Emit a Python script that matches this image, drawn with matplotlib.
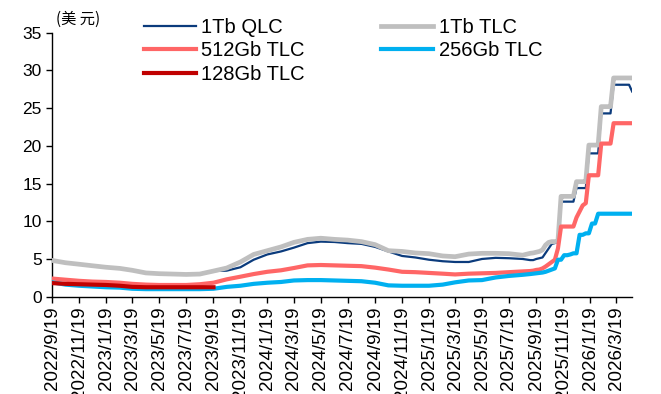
import matplotlib
matplotlib.use("Agg")
import matplotlib.pyplot as plt
import numpy as np
import pandas as pd

plt.rcParams['font.family'] = ['Liberation Sans', 'DejaVu Sans']

# monthly points (19th) Sep 2022 - Aug 2025, then weekly (Fridays) Sep 2025 - Apr 2026
monthly_dates = pd.date_range("2022-09-19", periods=36, freq=pd.DateOffset(months=1))
weekly_dates = pd.date_range("2025-09-05", "2026-04-24", freq="7D")
dates = monthly_dates.append(weekly_dates)

nan = np.nan

qlc_1tb = [nan] * 12 + [
    3.4, 3.45, 3.9, 4.9, 5.6, 6.0, 6.5, 7.1, 7.3, 7.25, 7.1, 7.0,
    6.6, 6.0, 5.4, 5.2, 4.9, 4.7, 4.6, 4.6, 5.0, 5.15, 5.1, 5.0,
] + [
    4.85, 4.85, 5.0, 5.1, 5.2, 5.8, 6.4, 7.0, 7.1, 7.3, 12.6, 12.6,
    12.6, 12.6, 12.6, 14.4, 14.4, 14.4, 14.4, 19.0, 19.0, 19.0, 19.0, 24.3,
    24.3, 24.3, 24.3, 28.1, 28.1, 28.1, 28.1, 28.1, 28.1, 27.2,
]

tlc_1tb = [
    4.8, 4.5, 4.3, 4.1, 3.9, 3.75, 3.5, 3.15, 3.05, 3.0, 2.95, 3.0,
    3.4, 3.8, 4.6, 5.6, 6.1, 6.6, 7.2, 7.6, 7.75, 7.6, 7.5, 7.3,
    6.9, 6.1, 6.0, 5.8, 5.7, 5.4, 5.3, 5.65, 5.75, 5.75, 5.7, 5.5,
] + [
    5.75, 5.8, 5.9, 6.0, 6.2, 6.85, 7.2, 7.3, 7.3, 7.4, 13.3, 13.3,
    13.3, 13.3, 13.3, 15.25, 15.25, 15.25, 15.25, 20.1, 20.1, 20.1, 20.1, 25.2,
    25.2, 25.2, 25.2, 29.0, 29.0, 29.0, 29.0, 29.0, 29.0, 29.0,
]

tlc_512gb = [
    2.4, 2.25, 2.1, 2.0, 1.95, 1.85, 1.7, 1.6, 1.55, 1.55, 1.55, 1.65,
    1.85, 2.3, 2.65, 3.0, 3.3, 3.5, 3.8, 4.15, 4.2, 4.15, 4.1, 4.05,
    3.85, 3.6, 3.3, 3.25, 3.15, 3.05, 2.95, 3.05, 3.1, 3.15, 3.25, 3.35,
] + [
    3.4, 3.45, 3.55, 3.6, 3.75, 4.0, 4.3, 4.6, 4.9, 6.4, 9.3, 9.3,
    9.3, 9.3, 9.3, 10.5, 11.3, 12.1, 12.4, 16.1, 16.1, 16.1, 16.1, 20.3,
    20.3, 20.3, 20.3, 23.0, 23.0, 23.0, 23.0, 23.0, 23.0, 23.0,
]

tlc_256gb = [
    1.9, 1.6, 1.45, 1.35, 1.25, 1.2, 1.05, 1.0, 1.0, 1.0, 1.0, 1.0,
    1.05, 1.3, 1.45, 1.7, 1.85, 1.95, 2.15, 2.2, 2.2, 2.15, 2.1, 2.05,
    1.85, 1.5, 1.45, 1.45, 1.45, 1.6, 1.9, 2.15, 2.2, 2.55, 2.75, 2.9,
] + [
    3.0, 3.05, 3.1, 3.15, 3.2, 3.3, 3.45, 3.6, 3.75, 4.9, 4.9, 5.5,
    5.5, 5.6, 5.75, 5.75, 8.2, 8.2, 8.4, 8.4, 9.7, 9.7, 11.0, 11.0,
    11.0, 11.0, 11.0, 11.0, 11.0, 11.0, 11.0, 11.0, 11.0, 11.0,
]

tlc_128gb = [
    1.8, 1.7, 1.65, 1.6, 1.55, 1.45, 1.3, 1.25, 1.25, 1.25, 1.25, 1.25,
    1.25,
] + [nan] * (36 - 13 + 34)

fig = plt.figure(figsize=(6.61, 3.94), dpi=100)
ax = fig.add_axes([0.0791, 0.247, 0.8766, 0.670])

l_qlc, = ax.plot(dates, qlc_1tb, color="#0B3B7C", lw=1.6, zorder=3, label="1Tb QLC")
l_1tb, = ax.plot(dates, tlc_1tb, color="#BFBFBF", lw=3.4, zorder=4, label="1Tb TLC")
l_512, = ax.plot(dates, tlc_512gb, color="#FF6666", lw=3.0, zorder=5, label="512Gb TLC")
l_256, = ax.plot(dates, tlc_256gb, color="#00B0F0", lw=3.0, zorder=6, label="256Gb TLC")
l_128, = ax.plot(dates, tlc_128gb, color="#C00000", lw=3.0, zorder=7, label="128Gb TLC")

ax.set_ylim(0, 35)
ax.set_yticks([0, 5, 10, 15, 20, 25, 30, 35])
ax.set_xlim(pd.Timestamp("2022-09-19"), pd.Timestamp("2026-04-23"))

tick_dates = pd.date_range("2022-09-19", periods=22, freq=pd.DateOffset(months=2))
ax.set_xticks(tick_dates)
ax.set_xticklabels([f"{d.year}/{d.month}/{d.day}" for d in tick_dates], rotation=90)

ax.tick_params(axis="both", direction="out", length=4, width=1, color="black")
ax.tick_params(axis="y", labelsize=12.5)
ax.tick_params(axis="x", labelsize=13.5, pad=3)
for s in ["top", "right"]:
    ax.spines[s].set_visible(False)
for s in ["left", "bottom"]:
    ax.spines[s].set_linewidth(1)
    ax.spines[s].set_color("black")

ax.text(0.007, 1.018, "(美 元)", transform=ax.transAxes, fontsize=11,
        family=["Noto Sans CJK SC", "DejaVu Sans"], va="bottom", ha="left")

fig.legend(handles=[l_qlc, l_512, l_128, l_1tb, l_256], ncol=2, frameon=False,
           loc="upper left", bbox_to_anchor=(0.205, 0.975), fontsize=14.5,
           handlelength=2.6, handletextpad=0.25, columnspacing=3.8,
           labelspacing=0.22, borderaxespad=0)

fig.savefig("out.png", dpi=100)
